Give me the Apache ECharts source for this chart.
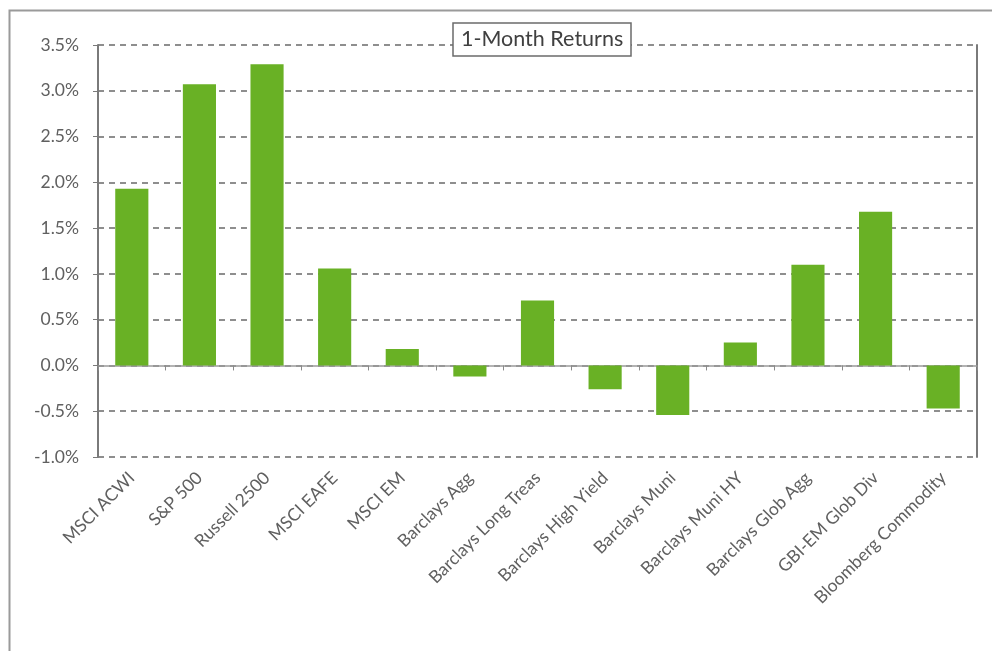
<!DOCTYPE html>
<html>
<head>
<meta charset="utf-8">
<script src="https://cdn.jsdelivr.net/npm/echarts@6/dist/echarts.min.js"></script>
<style>
html,body{margin:0;padding:0;background:#fff;}
#c{width:992px;height:651px;}
</style>
</head>
<body>
<div id="c"></div>
<script>
var categories = ['MSCI ACWI','S&P 500','Russell 2500','MSCI EAFE','MSCI EM','Barclays Agg','Barclays Long Treas','Barclays High Yield','Barclays Muni','Barclays Muni HY','Barclays Glob Agg','GBI-EM Glob Div','Bloomberg Commodity'];
var returns1M = [1.93, 3.07, 3.29, 1.06, 0.18, -0.12, 0.71, -0.26, -0.54, 0.25, 1.10, 1.68, -0.47];
var yTicks = {min: -1.0, max: 3.5, interval: 0.5};
var titleText = '1-Month Returns';

var chart = echarts.init(document.getElementById('c'));
var font = 'Lato, "Open Sans", sans-serif';
chart.setOption({
  animation: false,
  backgroundColor: '#fff',
  textStyle: {fontFamily: font},
  graphic: [{
    type: 'rect', left: 7, top: 8, z: -10, silent: true,
    shape: {width: 1100, height: 800},
    style: {fill: 'none', stroke: '#9a9a9a', lineWidth: 2}
  }],
  title: {
    text: titleText,
    left: 453, top: 23,
    padding: [4, 8, 4, 8],
    borderColor: '#6b6b6b', borderWidth: 1.5,
    backgroundColor: '#fff',
    textStyle: {fontFamily: font, fontSize: 21.5, lineHeight: 25, fontWeight: 'normal', color: '#404040'},
    z: 10
  },
  grid: {left: 98, right: 15, top: 45, bottom: 194},
  xAxis: [{
    type: 'category', data: categories, position: 'bottom',
    axisLine: {show: true, onZero: true, lineStyle: {color: '#9a9a9a', width: 1.5}},
    axisTick: {show: true, interval: 0, length: 5, inside: false, lineStyle: {color: '#8a8a8a'}},
    axisLabel: {show: false}, splitLine: {show: false}
  }, {
    type: 'category', data: categories, position: 'bottom',
    axisLine: {show: false, onZero: false}, axisTick: {show: false},
    axisLabel: {show: true, interval: 0, rotate: 45, margin: 18, color: '#606060', fontSize: 17.5, fontFamily: font},
    splitLine: {show: false}
  }],
  yAxis: [{
    type: 'value', min: yTicks.min, max: yTicks.max, interval: yTicks.interval,
    axisLine: {show: true, lineStyle: {color: '#7a7a7a', width: 2}},
    axisTick: {show: true, length: 5, lineStyle: {color: '#7a7a7a'}},
    axisLabel: {color: '#606060', fontSize: 17.5, margin: 19, fontFamily: font,
      formatter: function(v){ return v.toFixed(1) + '%'; }},
    splitLine: {show: true, lineStyle: {color: '#6a6a6a', type: [6, 5], width: 1.5}}
  }, {
    type: 'value', position: 'right', min: yTicks.min, max: yTicks.max, interval: yTicks.interval,
    axisLine: {show: true, lineStyle: {color: '#7a7a7a', width: 2}},
    axisTick: {show: false}, axisLabel: {show: false}, splitLine: {show: false}
  }],
  series: [{
    type: 'bar', data: returns1M, xAxisIndex: 0, yAxisIndex: 0,
    barWidth: '49%',
    itemStyle: {color: '#69B125'}
  }]
});
</script>
</body>
</html>
